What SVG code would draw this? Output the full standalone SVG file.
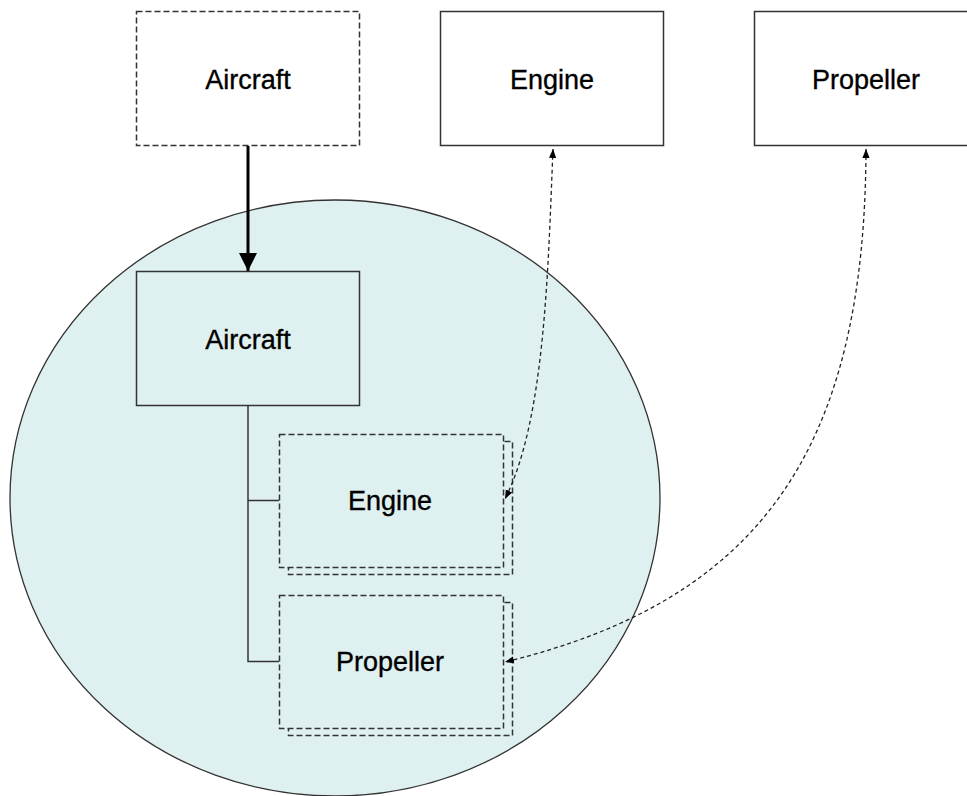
<svg xmlns="http://www.w3.org/2000/svg" width="967" height="796" viewBox="0 0 967 796">
<style>
.lbl{font-family:"Liberation Sans",Arial,sans-serif;font-size:27px;fill:#000;stroke:#000;stroke-width:0.35;text-anchor:middle}
.solid{fill:#fff;stroke:#333;stroke-width:1.5}
.dash{fill:#fff;stroke:#333;stroke-width:1.5;stroke-dasharray:6 3}
.inner{fill:#dff0f0;stroke:#333;stroke-width:1.5}
.innerdash{fill:#dff0f0;stroke:#333;stroke-width:1.5;stroke-dasharray:6 3}
.ref{fill:none;stroke:#222;stroke-width:1.3;stroke-dasharray:4 3;marker-start:url(#sm);marker-end:url(#sm)}
.tree{fill:none;stroke:#333;stroke-width:1.5}
</style>
<defs>
<marker id="big" viewBox="0 0 10 10" refX="10" refY="5" markerWidth="6" markerHeight="6" orient="auto" markerUnits="strokeWidth">
<path d="M0,0 L10,5 L0,10 z" fill="#000"/>
</marker>
<marker id="sm" viewBox="0 0 10 10" refX="10" refY="5" markerWidth="9" markerHeight="9" orient="auto-start-reverse" markerUnits="userSpaceOnUse">
<path d="M0,1 L10,5 L0,9 z" fill="#000"/>
</marker>
</defs>
<rect width="967" height="796" fill="#fff"/>
<ellipse id="context" cx="335" cy="498" rx="325" ry="298" fill="#dff0f0" stroke="#333" stroke-width="1.3"/>

<g id="ext-aircraft">
<rect class="dash" x="136.5" y="11.5" width="223" height="134"/>
<text class="lbl" x="248" y="89">Aircraft</text>
</g>
<g id="ext-engine">
<rect class="solid" x="440.5" y="11.5" width="223" height="134"/>
<text class="lbl" x="552" y="89">Engine</text>
</g>
<g id="ext-propeller">
<rect class="solid" x="754.5" y="11.5" width="223" height="134"/>
<text class="lbl" x="866" y="89">Propeller</text>
</g>

<g id="aircraft">
<rect class="inner" x="136.5" y="271.5" width="223" height="134"/>
<text class="lbl" x="248" y="349">Aircraft</text>
</g>
<g id="engine">
<rect class="innerdash" x="288.5" y="441.5" width="224" height="133"/>
<rect class="innerdash" x="279.5" y="434.5" width="224" height="133"/>
<text class="lbl" x="390" y="510">Engine</text>
</g>
<g id="propeller">
<rect class="innerdash" x="288.5" y="602.5" width="224" height="133"/>
<rect class="innerdash" x="279.5" y="595.5" width="224" height="133"/>
<text class="lbl" x="390" y="671">Propeller</text>
</g>

<g id="connectors">
<line x1="248" y1="146" x2="248" y2="271" stroke="#000" stroke-width="3" marker-end="url(#big)"/>
<path class="tree" d="M248,406 V661.5 H279 M248,500.5 H279"/>
<path class="ref" d="M553,149 C548,270 545,420 505,499"/>
<path class="ref" d="M866,149 C865,450 760,600 505,662"/>
</g>
</svg>
